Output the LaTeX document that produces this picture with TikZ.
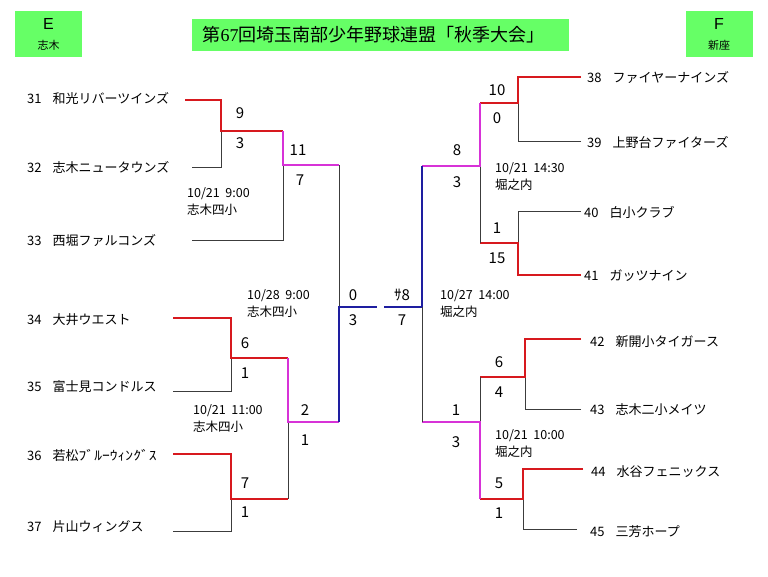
\documentclass[tikz,border=0pt]{standalone}
\usepackage{fontspec}
\setmainfont{Noto Sans CJK JP}
\newfontfamily\latinserif{Liberation Serif}
\newfontfamily\latinsans{Liberation Sans}
\usepackage{tikz}
\usetikzlibrary{calc}
\definecolor{badgegreen}{RGB}{102,255,102}
\definecolor{winred}{RGB}{215,25,30}
\definecolor{semimag}{RGB}{215,50,215}
\definecolor{finblue}{RGB}{30,30,160}
\definecolor{linegray}{RGB}{60,60,60}
\tikzset{
  team/.style={anchor=west, inner sep=0pt, font=\fontsize{13}{15}\selectfont},
  score/.style={inner sep=0pt, font=\fontsize{15}{17}\selectfont},
  info/.style={anchor=west, inner sep=0pt, align=left, font=\fontsize{12.5}{17}\selectfont},
  badge/.style={fill=badgegreen, inner sep=0pt, align=center, minimum width=67, minimum height=46, font=\fontsize{11}{20}\selectfont},
  banner/.style={fill=badgegreen, inner sep=0pt, minimum width=377, minimum height=32, font=\fontsize{18}{20}\selectfont},
  lossline/.style={draw=linegray, line width=1pt},
  winline/.style={draw=winred, line width=1.8pt},
  semiline/.style={draw=semimag, line width=1.8pt},
  finalline/.style={draw=finblue, line width=1.8pt}
}

\begin{document}
\begin{tikzpicture}[x=1pt,y=-1pt]
\useasboundingbox (0,0) rectangle (768,576);
\node[badge] (blockE) at (48.5,34) {{\latinsans\fontsize{16}{20}\selectfont E}\\志木};
\node[badge] (blockF) at (719,34) {{\latinsans\fontsize{16}{20}\selectfont F}\\新座};
\node[banner] (title) at (380.5,35) {\hspace*{-14pt}第{\latinserif 67}回埼玉南部少年野球連盟「秋季大会」};
% teams
\foreach \n/\x/\y/\name in {31/27/98/和光リバーツインズ, 32/27/167/志木ニュータウンズ,
  33/27/240/西堀ファルコンズ, 34/27/320/大井ウエスト, 35/27/387/富士見コンドルス,
  36/27/455/若松{\addfontfeatures{FakeStretch=1.2}ﾌﾞﾙｰｳｨﾝｸﾞｽ}, 37/27/527/片山ウィングス,
  38/587/77/ファイヤーナインズ, 39/587/142/上野台ファイターズ, 40/584/212/白小クラブ,
  41/584/276/ガッツナイン, 42/590/342/新開小タイガース, 43/590/410/志木二小メイツ,
  44/591/472/水谷フェニックス, 45/590/532/三芳ホープ} {
  \node[team] (t\n) at (\x,\y) {\n\hspace{0.85em}\name};
}
\foreach \n/\x/\y in {31/185/100, 32/192/167, 33/192/240, 34/173/318, 35/173/391,
  36/173/454, 37/173/531, 38/581/77, 39/581/141, 40/581/211, 41/581/275,
  42/581/339, 43/581/409, 44/583/469, 45/577/529} {
  \coordinate (a\n) at (\x,\y);
}
% joints
\coordinate (j1) at (221,131); \coordinate (k1) at (283,131);
\coordinate (k2) at (283,165); \coordinate (c1) at (339,165);
\coordinate (j3) at (231,358); \coordinate (k3) at (288,358);
\coordinate (j4) at (231,499); \coordinate (k4) at (288,499);
\coordinate (k5) at (288,422); \coordinate (c2) at (339,422);
\coordinate (f1) at (339,307); \coordinate (fL) at (377,307);
\coordinate (j5) at (518,103); \coordinate (k6) at (480,103);
\coordinate (j6) at (518,243); \coordinate (k7) at (480,243);
\coordinate (k8) at (480,166); \coordinate (c3) at (422,166);
\coordinate (j7) at (525,377); \coordinate (k9) at (480,377);
\coordinate (j8) at (523,499); \coordinate (k10) at (480,499);
\coordinate (k11) at (480,422); \coordinate (c4) at (422,422);
\coordinate (f2) at (422,307); \coordinate (fR) at (384,307);
% E block
\draw[lossline] (a32) -| (j1);
\draw[winline] (a31) -| (j1) -- (k1);
\draw[lossline] (a33) -| (k2);
\draw[semiline] (k1) -- (k2) -- (c1);
\draw[lossline] (c1) -- (f1);
\draw[lossline] (a35) -| (j3);
\draw[winline] (a34) -| (j3) -- (k3);
\draw[lossline] (a37) -| (j4);
\draw[winline] (a36) -| (j4) -- (k4);
\draw[lossline] (k4) -- (k5);
\draw[semiline] (k3) -- (k5) -- (c2);
\draw[finalline] (c2) -- (f1) -- (fL);
% F block
\draw[lossline] (a39) -| (j5);
\draw[winline] (a38) -| (j5) -- (k6);
\draw[lossline] (a40) -| (j6);
\draw[winline] (a41) -| (j6) -- (k7);
\draw[lossline] (k7) -- (k8);
\draw[semiline] (k6) -- (k8) -- (c3);
\draw[finalline] (c3) -- (f2) -- (fR);
\draw[lossline] (a43) -| (j7);
\draw[winline] (a42) -| (j7) -- (k9);
\draw[lossline] (a45) -| (j8);
\draw[winline] (a44) -| (j8) -- (k10);
\draw[lossline] (k9) -- (k11);
\draw[semiline] (k10) -- (k11) -- (c4);
\draw[lossline] (c4) -- (f2);
% scores
\foreach \s/\x/\y in {9/240/113, 3/240/143, 11/298/150, 7/300/180, 6/245/343, 1/245/373,
  7/245/483, 1/245/512, 2/305/410, 1/305/440, 0/353/295, 3/353/320,
  ｻ8/402/295, 7/402/320, 10/497/90, 0/497/118, 8/457/150, 3/457/182,
  1/497/228, 15/497/258, 6/499/362, 4/499/392, 1/456/410, 3/456/442,
  5/499/483, 1/499/513} {
  \node[score] (s\x-\y) at (\x,\y) {\s};
}
% dates
\node[info] (d1) at (187,201.5) {10/21~~9:00\\志木四小};
\node[info] (d2) at (193,419) {10/21~~11:00\\志木四小};
\node[info] (d3) at (247,303.5) {10/28~~9:00\\志木四小};
\node[info] (d4) at (440,303.5) {10/27~~14:00\\堀之内};
\node[info] (d5) at (495,176.5) {10/21~~14:30\\堀之内};
\node[info] (d6) at (495,443.5) {10/21~~10:00\\堀之内};
\end{tikzpicture}
\end{document}
